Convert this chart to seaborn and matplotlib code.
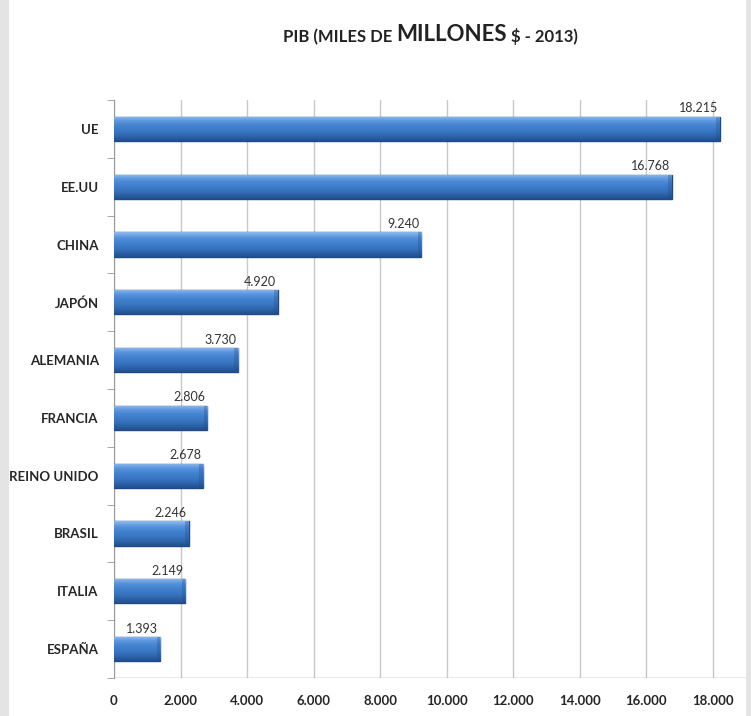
import numpy as np
import pandas as pd
import matplotlib.pyplot as plt
from matplotlib.patches import Rectangle
from matplotlib.colors import LinearSegmentedColormap
import seaborn as sns

# datos
paises = ["UE", "EE.UU", "CHINA", "JAPÓN", "ALEMANIA", "FRANCIA",
          "REINO UNIDO", "BRASIL", "ITALIA", "ESPAÑA"]
pib = [18215, 16768, 9240, 4920, 3730, 2806, 2678, 2246, 2149, 1393]
xticks = [0, 2000, 4000, 6000, 8000, 10000, 12000, 14000, 16000, 18000]

df = pd.DataFrame({"pais": paises, "pib": pib})

def miles(v):
    return f"{v:,.0f}".replace(",", ".")

sns.set_style("white")
plt.rcParams['font.family'] = ['Lato', 'DejaVu Sans']

fig = plt.figure(figsize=(7.51, 7.16), dpi=100, facecolor="#e4e4e4")
# tarjeta blanca de fondo
fig.patches.append(Rectangle((0.012, 0.0), 0.982, 1.0, transform=fig.transFigure,
                             facecolor="white", edgecolor="none", zorder=-5))

ax = fig.add_axes([114/751, 1 - 678/716, (746-114)/751, (678-100)/716])
ax.set_facecolor("none")

sns.barplot(data=df, x="pib", y="pais", orient="h", color="#3b78c6",
            edgecolor="#1f4a85", linewidth=1.0, width=0.42, saturation=1, ax=ax, zorder=3)

# degradado vertical tipo 3D en cada barra
grad = LinearSegmentedColormap.from_list(
    "barra", ["#8fbcee", "#5a94dc", "#4282cf", "#3a78c4", "#2f66ae", "#214f8f"])
g = np.linspace(0, 1, 64).reshape(-1, 1)
for p in ax.patches[:len(pib)]:
    x0, y0 = p.get_x(), p.get_y()
    w, h = p.get_width(), p.get_height()
    im = ax.imshow(g, cmap=grad, aspect="auto", extent=(x0, x0 + w, y0 + h, y0),
                   interpolation="bicubic", zorder=3.5)
    im.set_clip_path(p)
    # tapa derecha algo mas oscura
    ax.add_patch(Rectangle((x0 + w - 110, y0), 110, h, facecolor="#1f4a88",
                           edgecolor="none", alpha=0.3, zorder=3.6))

for i, v in enumerate(pib):
    ax.text(v - 60, i - 0.25, miles(v), ha="right", va="bottom", fontsize=9,
            color="#333333", zorder=5)

ax.set_xlim(0, 19000)
ax.set_ylim(len(paises) - 0.5, -0.5)
ax.set_xticks(xticks)
ax.set_xticklabels([miles(t) for t in xticks], fontsize=9.5, fontweight="bold")
ax.set_yticks(range(len(paises)))
ax.set_yticklabels(paises, fontsize=9.5, fontweight="bold")
ax.tick_params(axis="y", length=0, pad=11)
ax.tick_params(axis="x", length=0, pad=12)
ax.set_yticks(np.arange(-0.5, len(paises), 1), minor=True)
ax.tick_params(axis="y", which="minor", left=True, length=5, color="#999999")
ax.grid(axis="x", color="#c8c8c8", linewidth=1, zorder=0)
ax.set_axisbelow(True)
ax.set_xlabel("")
ax.set_ylabel("")
for s in ["top", "right", "bottom"]:
    ax.spines[s].set_visible(False)
ax.spines["left"].set_color("#999999")
ax.axhline(len(paises) - 0.5, color="#999999", linewidth=1)

# titulo con tamaños mezclados
t1 = fig.text(0.377, 1 - 42/716, "PIB (MILES DE ", fontsize=12, fontweight="bold",
              color="#222222", va="baseline")
t2 = ax.annotate("MILLONES", xy=(1, 0), xycoords=t1, va="bottom", ha="left",
                 fontsize=16, fontweight="bold", color="#222222", annotation_clip=False)
ax.annotate(" $ - 2013)", xy=(1, 0), xycoords=t2, va="bottom", ha="left",
            fontsize=12, fontweight="bold", color="#222222", annotation_clip=False)

fig.savefig("out.png", dpi=100, facecolor=fig.get_facecolor())
